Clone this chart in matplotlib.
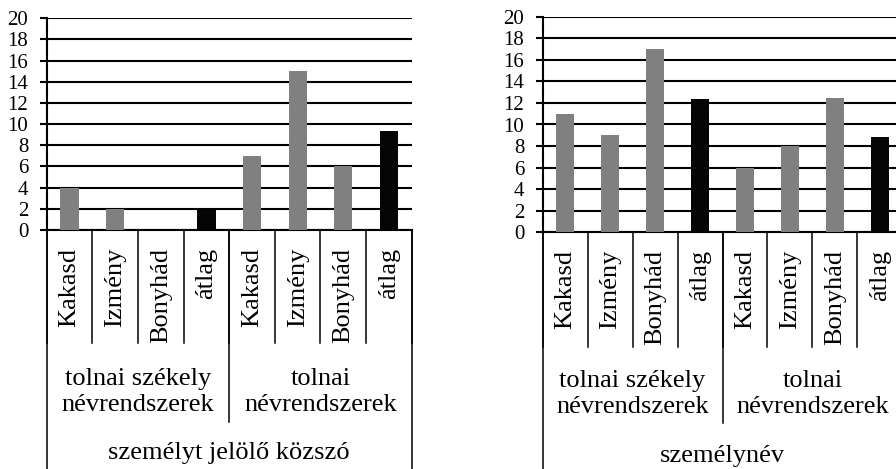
#!/usr/bin/env python3

"""
Two bar charts of Hungarian name systems (Kakasd, Izmény, Bonyhád),
with a nested category table below each chart.
"""

import numpy as np
import matplotlib
matplotlib.use("Agg")
import matplotlib.pyplot as plt
from matplotlib.transforms import blended_transform_factory

# Data
villages = ["Kakasd", "Izmény", "Bonyhád", "átlag"]
groups = ["tolnai székely\nnévrendszerek", "tolnai\nnévrendszerek"]
left_title = "személyt jelölő közszó"
right_title = "személynév"
left_values = [4, 2, 0, 2, 7, 15, 6, 9.33]
right_values = [11, 9, 17, 12.33, 6, 8, 12.5, 8.83]
y_ticks = list(range(0, 21, 2))

GRAY = "#808080"
BLACK = "#050505"
W, H = 896, 469
SERIF = ["Liberation Serif", "DejaVu Serif"]

plt.rcParams["font.family"] = SERIF


def fy(ypx):
    """Convert a pixel row (from the top) to a figure fraction."""
    return 1 - ypx / H


def draw_panel(fig, rect_px, values, title, sep_bottom, group_bottom,
               label_top, group_y, title_y):
    left, top, right, zero = rect_px
    ax = fig.add_axes([left / W, fy(zero), (right - left) / W, (zero - top) / H])

    labels = villages * len(groups)
    x = np.arange(len(labels))
    colors = [BLACK if lab == "átlag" else GRAY for lab in labels]

    ax.bar(x, values, width=0.4, color=colors, zorder=3)
    ax.set_xlim(-0.5, len(labels) - 0.5)
    ax.set_ylim(0, 20)
    ax.set_yticks(y_ticks)
    ax.set_yticklabels([str(t) for t in y_ticks], fontfamily=SERIF)
    ax.yaxis.grid(True, color="black", linewidth=1.5, zorder=1)
    ax.set_axisbelow(True)
    ax.set_xticks([])
    ax.tick_params(axis="y", direction="out", length=4.8, width=1.5,
                   labelsize=15, pad=8.5)
    for side in ["top", "right"]:
        ax.spines[side].set_visible(False)
    for side in ["left", "bottom"]:
        ax.spines[side].set_linewidth(1.5)

    trans = blended_transform_factory(ax.transData, fig.transFigure)

    # Rotated category labels and the lines between them
    for xi, lab in zip(x, labels):
        ax.text(xi, fy(label_top), lab, rotation=90, ha="center", va="top",
                fontsize=19, transform=trans)
    for xs in np.arange(len(labels) + 1) - 0.5:
        ax.plot([xs, xs], [fy(zero), fy(sep_bottom)], color="black",
                linewidth=1.1, transform=trans, clip_on=False)

    # Group labels
    n = len(villages)
    for gi, g in enumerate(groups):
        cx = gi * n + (n - 1) / 2
        ax.text(cx, fy(group_y), g, ha="center", va="center", fontsize=19,
                linespacing=1.25, transform=trans)
    for gi in range(1, len(groups)):
        xs = gi * n - 0.5
        ax.plot([xs, xs], [fy(zero), fy(group_bottom)], color="black",
                linewidth=1.1, transform=trans, clip_on=False)

    # Outer label
    for xs in [-0.5, len(labels) - 0.5]:
        ax.plot([xs, xs], [fy(zero), 0], color="black", linewidth=1.1,
                transform=trans, clip_on=False)
    ax.text((len(labels) - 1) / 2, fy(title_y), title, ha="center",
            va="center", fontsize=19, transform=trans)
    return ax


def main():
    fig = plt.figure(figsize=(W / 100, H / 100), dpi=100)

    draw_panel(fig, (46.7, 18.3, 411.7, 230), left_values, left_title,
               sep_bottom=343, group_bottom=421.7, label_top=248,
               group_y=392, title_y=453)
    draw_panel(fig, (542.7, 16.7, 902.3, 232.3), right_values, right_title,
               sep_bottom=346.7, group_bottom=423, label_top=250,
               group_y=394, title_y=456)

    fig.savefig("out.png", dpi=100)


if __name__ == "__main__":
    main()
